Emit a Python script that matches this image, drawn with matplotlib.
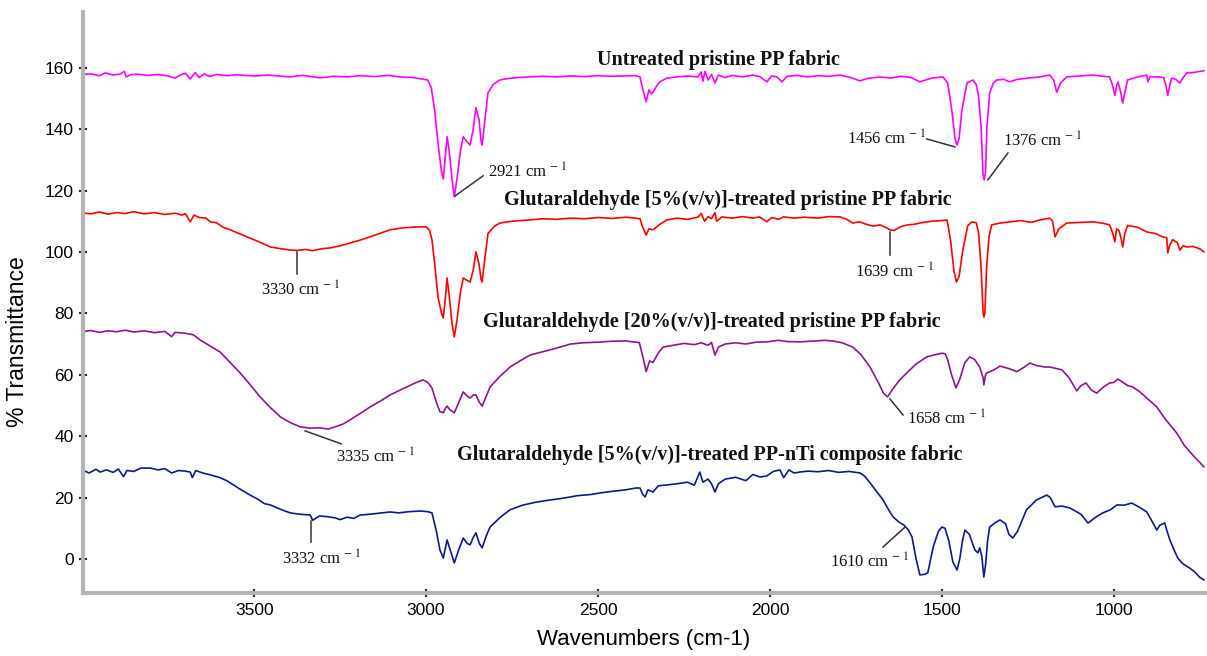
import numpy as np
import matplotlib.pyplot as plt
from matplotlib.ticker import MultipleLocator

plt.rcParams['font.family'] = ['Liberation Sans', 'DejaVu Sans']
plt.rcParams['mathtext.fontset'] = 'stix'

# FTIR spectra: (wavenumber cm-1, % transmittance), offset traces
untreated = [
    (4000, 157.8), (3975, 158.0), (3950, 157.4), (3933, 158.3), (3910, 157.6), (3890, 157.9),
    (3878, 158.8), (3872, 157.0), (3860, 157.7), (3840, 157.9), (3810, 157.5), (3780, 157.8),
    (3750, 157.3), (3730, 156.6), (3715, 157.6), (3700, 158.2), (3686, 156.3), (3672, 158.4),
    (3660, 156.8), (3645, 158.0), (3630, 157.1), (3610, 157.8), (3580, 157.4), (3550, 157.7),
    (3500, 157.3), (3460, 157.6), (3420, 157.2), (3395, 157.0), (3360, 157.5), (3308, 156.7),
    (3270, 157.2), (3230, 157.0), (3190, 157.4), (3150, 157.1), (3110, 157.5), (3076, 157.0),
    (3040, 156.8), (3017, 156.4), (2995, 156.0), (2985, 153.5), (2975, 146.0), (2965, 135.0),
    (2955, 126.0), (2950, 123.8), (2945, 130.0), (2939, 137.5), (2933, 133.0), (2925, 124.0),
    (2918, 118.0), (2910, 124.0), (2900, 133.0), (2892, 137.5), (2882, 136.0), (2872, 134.8),
    (2863, 140.0), (2855, 147.0), (2846, 143.0), (2840, 136.0), (2837, 134.8), (2830, 142.0),
    (2820, 151.8), (2805, 154.5), (2785, 156.0), (2760, 156.5), (2730, 156.8), (2700, 157.0),
    (2660, 157.2), (2620, 157.0), (2580, 157.3), (2540, 157.1), (2500, 157.4), (2460, 157.2),
    (2420, 157.3), (2390, 157.4), (2378, 157.0), (2370, 153.0), (2360, 148.9), (2352, 152.8),
    (2345, 151.5), (2340, 152.0), (2330, 154.0), (2320, 155.4), (2300, 156.6), (2270, 157.0),
    (2240, 157.3), (2210, 157.0), (2200, 158.6), (2195, 155.6), (2189, 158.8), (2180, 156.0),
    (2170, 157.8), (2160, 155.0), (2150, 157.6), (2130, 156.8), (2110, 157.5), (2080, 157.0),
    (2050, 157.6), (2030, 157.1), (2009, 155.4), (1995, 157.3), (1980, 157.0), (1965, 155.4),
    (1950, 157.2), (1920, 157.5), (1890, 157.0), (1860, 157.4), (1830, 157.2), (1796, 157.6),
    (1765, 156.8), (1738, 155.7), (1720, 156.4), (1709, 156.6), (1680, 157.0), (1650, 156.6),
    (1620, 157.2), (1590, 156.8), (1564, 155.4), (1530, 156.6), (1497, 157.0), (1483, 155.0),
    (1471, 146.0), (1462, 137.0), (1456, 134.8), (1450, 137.0), (1442, 146.0), (1427, 155.0),
    (1410, 156.0), (1400, 154.5), (1393, 150.5), (1386, 140.7), (1380, 125.0), (1377, 123.5),
    (1373, 126.0), (1369, 140.7), (1361, 151.8), (1350, 155.0), (1340, 156.0), (1320, 156.2),
    (1303, 155.4), (1280, 156.2), (1250, 156.6), (1215, 157.0), (1186, 157.6), (1175, 156.0),
    (1166, 152.0), (1155, 155.0), (1137, 157.0), (1100, 157.3), (1061, 157.6), (1030, 157.2),
    (1012, 157.0), (1003, 154.0), (997, 151.0), (992, 154.0), (988, 155.4), (980, 152.0),
    (974, 148.5), (968, 152.0), (960, 156.0), (930, 157.0), (904, 157.6), (901, 155.4),
    (895, 157.0), (875, 157.0), (855, 156.8), (848, 154.0), (843, 151.0), (838, 154.0),
    (832, 156.6), (820, 156.2), (808, 155.0), (800, 156.5), (788, 158.3), (770, 158.4),
    (750, 158.8), (738, 159.0),
]

glut5 = [
    (4000, 112.7), (3975, 112.4), (3950, 113.0), (3925, 112.3), (3900, 112.8), (3875, 112.5),
    (3850, 113.1), (3820, 112.4), (3790, 112.8), (3760, 112.2), (3730, 112.6), (3710, 112.0),
    (3700, 112.5), (3686, 109.8), (3675, 112.0), (3660, 111.2), (3640, 111.0), (3628, 109.8),
    (3610, 109.5), (3590, 108.0), (3570, 107.2), (3540, 105.8), (3512, 104.5), (3480, 103.0),
    (3453, 101.6), (3420, 101.0), (3395, 100.6), (3375, 100.5), (3350, 100.8), (3330, 100.4),
    (3305, 101.0), (3279, 101.3), (3250, 102.0), (3221, 102.9), (3190, 103.9), (3163, 104.9),
    (3130, 106.2), (3105, 107.2), (3070, 107.8), (3032, 108.1), (3000, 108.2), (2990, 107.0),
    (2983, 104.0), (2975, 96.0), (2965, 85.0), (2955, 80.0), (2950, 78.5), (2945, 84.0),
    (2939, 91.5), (2932, 85.0), (2925, 77.0), (2918, 72.3), (2910, 78.0), (2900, 87.0),
    (2892, 91.5), (2882, 90.8), (2872, 90.2), (2863, 94.0), (2855, 100.0), (2846, 96.0),
    (2840, 91.0), (2837, 90.2), (2830, 97.0), (2820, 106.0), (2800, 108.5), (2785, 109.4),
    (2750, 110.0), (2700, 110.4), (2660, 110.8), (2620, 110.6), (2580, 111.0), (2540, 110.8),
    (2500, 111.2), (2460, 110.9), (2420, 111.3), (2390, 111.0), (2378, 110.8), (2370, 108.0),
    (2360, 105.5), (2352, 107.5), (2340, 107.2), (2320, 109.0), (2300, 110.4), (2270, 111.0),
    (2240, 110.6), (2210, 111.3), (2200, 112.5), (2190, 110.0), (2180, 111.5), (2170, 110.8),
    (2160, 112.8), (2155, 110.0), (2140, 111.4), (2110, 111.0), (2080, 111.5), (2050, 111.0),
    (2030, 111.4), (2009, 109.8), (1995, 111.2), (1975, 110.6), (1960, 111.4), (1930, 111.0),
    (1900, 111.3), (1860, 111.0), (1830, 111.5), (1796, 111.4), (1775, 110.5), (1759, 109.4),
    (1740, 109.8), (1720, 109.0), (1700, 108.4), (1680, 108.8), (1660, 107.8), (1651, 107.2),
    (1639, 107.0), (1620, 108.2), (1600, 108.8), (1580, 109.0), (1564, 109.4), (1530, 110.0),
    (1500, 110.2), (1485, 110.4), (1475, 104.0), (1465, 94.0), (1458, 90.2), (1450, 92.0),
    (1440, 100.0), (1425, 108.5), (1413, 109.8), (1400, 109.5), (1393, 106.0), (1386, 95.0),
    (1380, 80.0), (1378, 78.8), (1375, 80.0), (1370, 95.0), (1363, 105.0), (1355, 108.8),
    (1331, 109.4), (1300, 109.8), (1270, 110.2), (1240, 109.6), (1215, 110.4), (1186, 111.0),
    (1178, 110.0), (1171, 104.9), (1160, 107.5), (1137, 109.4), (1100, 109.6), (1060, 109.8),
    (1030, 109.3), (1012, 108.8), (1003, 106.0), (997, 103.3), (992, 107.5), (985, 107.0),
    (978, 104.0), (974, 101.6), (968, 106.0), (960, 108.6), (930, 108.0), (904, 106.5),
    (880, 106.0), (860, 105.0), (846, 104.6), (843, 99.7), (838, 102.0), (829, 104.0),
    (815, 103.0), (808, 100.6), (798, 102.0), (788, 101.6), (770, 101.8), (750, 101.0),
    (738, 100.0),
]

glut20 = [
    (4000, 74.0), (3975, 74.4), (3950, 73.8), (3925, 74.3), (3900, 74.0), (3875, 74.5),
    (3850, 73.9), (3820, 74.3), (3790, 73.7), (3760, 74.1), (3740, 72.4), (3730, 73.8),
    (3700, 73.5), (3677, 73.0), (3657, 71.3), (3630, 69.5), (3599, 67.4), (3570, 64.0),
    (3541, 60.6), (3512, 56.8), (3483, 52.8), (3453, 49.3), (3424, 46.3), (3395, 44.4),
    (3366, 43.0), (3337, 42.6), (3308, 42.7), (3285, 42.3), (3265, 43.0), (3240, 44.0),
    (3221, 45.3), (3190, 47.5), (3163, 49.5), (3130, 51.6), (3105, 53.4), (3070, 55.3),
    (3032, 57.3), (3009, 58.3), (2995, 57.5), (2983, 55.7), (2970, 51.0), (2960, 48.0),
    (2950, 47.6), (2944, 49.0), (2939, 49.8), (2930, 48.5), (2918, 47.6), (2905, 51.0),
    (2892, 54.4), (2880, 53.0), (2872, 52.4), (2863, 53.4), (2855, 53.4), (2845, 51.0),
    (2837, 49.8), (2825, 53.0), (2814, 56.0), (2785, 59.5), (2756, 62.5), (2727, 64.5),
    (2698, 66.4), (2660, 67.5), (2620, 68.7), (2580, 70.0), (2544, 70.4), (2500, 70.6),
    (2460, 70.9), (2420, 71.0), (2398, 70.7), (2380, 70.5), (2370, 66.0), (2360, 61.0),
    (2350, 64.5), (2340, 64.0), (2325, 67.0), (2311, 69.0), (2280, 69.6), (2250, 70.2),
    (2220, 69.8), (2200, 70.4), (2180, 69.6), (2170, 70.5), (2160, 66.4), (2150, 69.0),
    (2130, 70.0), (2100, 70.4), (2070, 70.0), (2040, 70.6), (2009, 70.7), (1975, 71.2),
    (1950, 70.8), (1913, 70.7), (1870, 71.0), (1840, 71.2), (1817, 71.0), (1790, 70.4),
    (1759, 69.0), (1735, 66.5), (1709, 62.5), (1685, 57.5), (1670, 54.0), (1658, 52.8),
    (1645, 55.0), (1625, 58.0), (1602, 60.6), (1575, 63.5), (1544, 65.8), (1520, 66.5),
    (1500, 67.0), (1490, 66.8), (1483, 64.8), (1472, 60.0), (1459, 55.7), (1448, 58.5),
    (1433, 64.0), (1419, 65.8), (1405, 65.0), (1390, 62.5), (1380, 59.0), (1378, 56.7),
    (1373, 60.0), (1369, 60.6), (1350, 61.5), (1331, 62.8), (1305, 62.0), (1282, 61.0),
    (1260, 62.5), (1244, 63.8), (1225, 63.0), (1200, 62.5), (1186, 62.5), (1151, 61.6),
    (1130, 59.0), (1108, 54.7), (1095, 56.5), (1081, 57.3), (1065, 55.0), (1050, 54.0),
    (1030, 56.0), (1012, 57.3), (1000, 57.5), (988, 58.6), (960, 56.5), (945, 56.0),
    (924, 54.4), (900, 52.0), (875, 49.5), (850, 45.5), (817, 41.0), (795, 37.0),
    (771, 33.9), (755, 32.0), (738, 30.0),
]

glut5_nti = [
    (4000, 29.0), (3980, 28.0), (3960, 29.2), (3948, 28.3), (3930, 29.0), (3910, 28.2),
    (3895, 29.3), (3880, 26.8), (3870, 28.8), (3850, 28.5), (3830, 29.6), (3802, 29.6),
    (3780, 29.0), (3760, 29.4), (3740, 28.0), (3720, 28.8), (3700, 28.6), (3686, 28.3),
    (3680, 26.5), (3670, 28.8), (3650, 28.0), (3628, 27.4), (3600, 26.5), (3580, 25.5),
    (3570, 24.8), (3545, 23.0), (3512, 20.8), (3490, 19.5), (3470, 18.0), (3453, 17.6),
    (3420, 16.0), (3395, 15.0), (3370, 14.6), (3337, 14.3), (3330, 12.6), (3310, 14.0),
    (3290, 13.8), (3265, 13.4), (3250, 12.8), (3230, 13.6), (3210, 13.2), (3192, 14.3),
    (3160, 14.6), (3130, 15.0), (3105, 15.3), (3080, 15.0), (3050, 15.4), (3017, 15.6),
    (2995, 15.4), (2983, 15.0), (2970, 9.0), (2960, 3.0), (2950, 0.3), (2944, 3.5),
    (2939, 6.2), (2930, 3.0), (2918, -1.3), (2905, 3.0), (2892, 6.8), (2880, 5.0),
    (2872, 4.6), (2863, 7.0), (2855, 8.5), (2845, 5.0), (2837, 3.6), (2825, 7.5),
    (2814, 10.4), (2785, 13.5), (2756, 16.0), (2720, 17.5), (2680, 18.5), (2640, 19.2),
    (2600, 19.8), (2560, 20.6), (2520, 21.0), (2494, 21.5), (2460, 22.0), (2420, 22.5),
    (2390, 23.1), (2378, 23.1), (2370, 21.0), (2363, 20.2), (2355, 22.5), (2340, 21.8),
    (2325, 23.8), (2300, 24.1), (2270, 24.5), (2240, 25.0), (2220, 24.0), (2204, 28.3),
    (2195, 25.0), (2180, 26.0), (2170, 24.5), (2160, 21.8), (2150, 24.5), (2130, 26.0),
    (2100, 26.6), (2070, 25.5), (2050, 27.5), (2029, 26.7), (2010, 27.0), (1990, 28.5),
    (1971, 29.0), (1960, 26.5), (1945, 29.0), (1930, 28.0), (1913, 28.3), (1890, 28.6),
    (1860, 28.4), (1830, 28.8), (1800, 28.2), (1770, 28.5), (1738, 28.0), (1725, 27.0),
    (1709, 24.8), (1690, 22.0), (1671, 19.2), (1655, 16.0), (1642, 13.7), (1625, 12.0),
    (1610, 11.0), (1598, 9.5), (1587, 7.2), (1575, 0.0), (1564, -5.2), (1550, -5.0),
    (1541, -4.5), (1525, 4.0), (1510, 9.0), (1500, 10.4), (1491, 10.0), (1480, 6.0),
    (1468, -1.0), (1456, -3.6), (1448, 0.0), (1440, 6.0), (1433, 9.4), (1420, 8.0),
    (1404, 2.9), (1395, 2.0), (1390, 3.6), (1384, 1.0), (1378, -5.9), (1373, -2.0),
    (1367, 6.0), (1361, 10.4), (1345, 11.8), (1331, 12.7), (1315, 11.5), (1305, 8.0),
    (1294, 6.8), (1280, 9.0), (1254, 16.0), (1225, 19.2), (1195, 20.8), (1185, 20.0),
    (1171, 17.0), (1150, 17.2), (1128, 16.6), (1110, 15.5), (1095, 14.5), (1075, 11.7),
    (1050, 13.8), (1032, 15.0), (1010, 16.0), (991, 17.6), (970, 17.5), (948, 18.2),
    (925, 16.8), (904, 15.3), (890, 12.5), (875, 9.4), (866, 11.0), (852, 11.7),
    (845, 9.0), (837, 6.2), (825, 3.0), (814, 0.3), (800, -1.5), (779, -3.0),
    (765, -4.2), (750, -6.0), (738, -6.8),
]

series = [
    (untreated, '#ff00ff', 'Untreated pristine PP fabric', 2151, 162.5),
    (glut5, '#ff0000', 'Glutaraldehyde [5%(v/v)]-treated pristine PP fabric', 2122, 117.0),
    (glut20, '#8e1590', 'Glutaraldehyde [20%(v/v)]-treated pristine PP fabric', 2169, 77.2),
    (glut5_nti, '#0c1a8c', 'Glutaraldehyde [5%(v/v)]-treated PP-nTi composite fabric', 2174, 33.9),
]

# peak labels: text, text position, leader line start -> end
peaks = [
    ('2921', (2820, 126.0), (2916, 118.2), (2834, 124.8)),
    ('1456', (1776, 136.8), (1544, 136.8), (1462, 134.2)),
    ('1376', (1323, 136.2), (1308, 132.2), (1366, 123.5)),
    ('3330', (3480, 87.6), (3375, 100.0), (3375, 92.8)),
    ('1639', (1753, 93.5), (1651, 106.5), (1651, 99.0)),
    ('3335', (3262, 33.2), (3352, 41.7), (3247, 37.5)),
    ('1658', (1602, 45.6), (1651, 52.1), (1613, 46.9)),
    ('3332', (3419, 0.0), (3334, 12.4), (3334, 5.5)),
    ('1610', (1826, -1.0), (1671, 3.9), (1607, 10.4)),
]

fig = plt.figure(figsize=(12.07, 6.56), dpi=100)
ax = fig.add_axes([0.069, 0.096, 0.929, 0.886])

for data, color, label, lx, ly in series:
    arr = np.array(data)
    ax.plot(arr[:, 0], arr[:, 1], color=color, lw=1.2)
    ax.text(lx, ly, label, ha='center', va='center', fontsize=14.5,
            fontweight='bold', family=['Liberation Serif', 'DejaVu Serif'], color='#111111')

for wn, (tx, ty), p0, p1 in peaks:
    ax.plot([p0[0], p1[0]], [p0[1], p1[1]], color='#333333', lw=1.1)
    ax.text(tx, ty, wn + r' cm$^{\,-\,1}$', ha='left', va='center', fontsize=12,
            family=['Liberation Serif', 'DejaVu Serif'], color='#111111')

ax.set_xlim(3997, 736)
ax.set_ylim(-11.1, 178.2)
ax.xaxis.set_major_locator(MultipleLocator(500))
ax.xaxis.set_minor_locator(MultipleLocator(100))
ax.yaxis.set_major_locator(MultipleLocator(20))
ax.yaxis.set_minor_locator(MultipleLocator(5))

for side in ['top', 'right']:
    ax.spines[side].set_visible(False)
for side in ['left', 'bottom']:
    ax.spines[side].set_color('#b4b4b4')
    ax.spines[side].set_linewidth(3)

ax.tick_params(which='major', direction='inout', length=6, width=1.5, color='#222222',
               labelsize=12.5, pad=4)
ax.tick_params(which='minor', direction='inout', length=3, width=1.5, color='#222222')

ax.set_xlabel('Wavenumbers (cm-1)', fontsize=16, labelpad=8)
ax.set_ylabel('% Transmittance', fontsize=16.5)
ax.yaxis.set_label_coords(-0.048, 0.432)

fig.savefig('out.png', dpi=100)
